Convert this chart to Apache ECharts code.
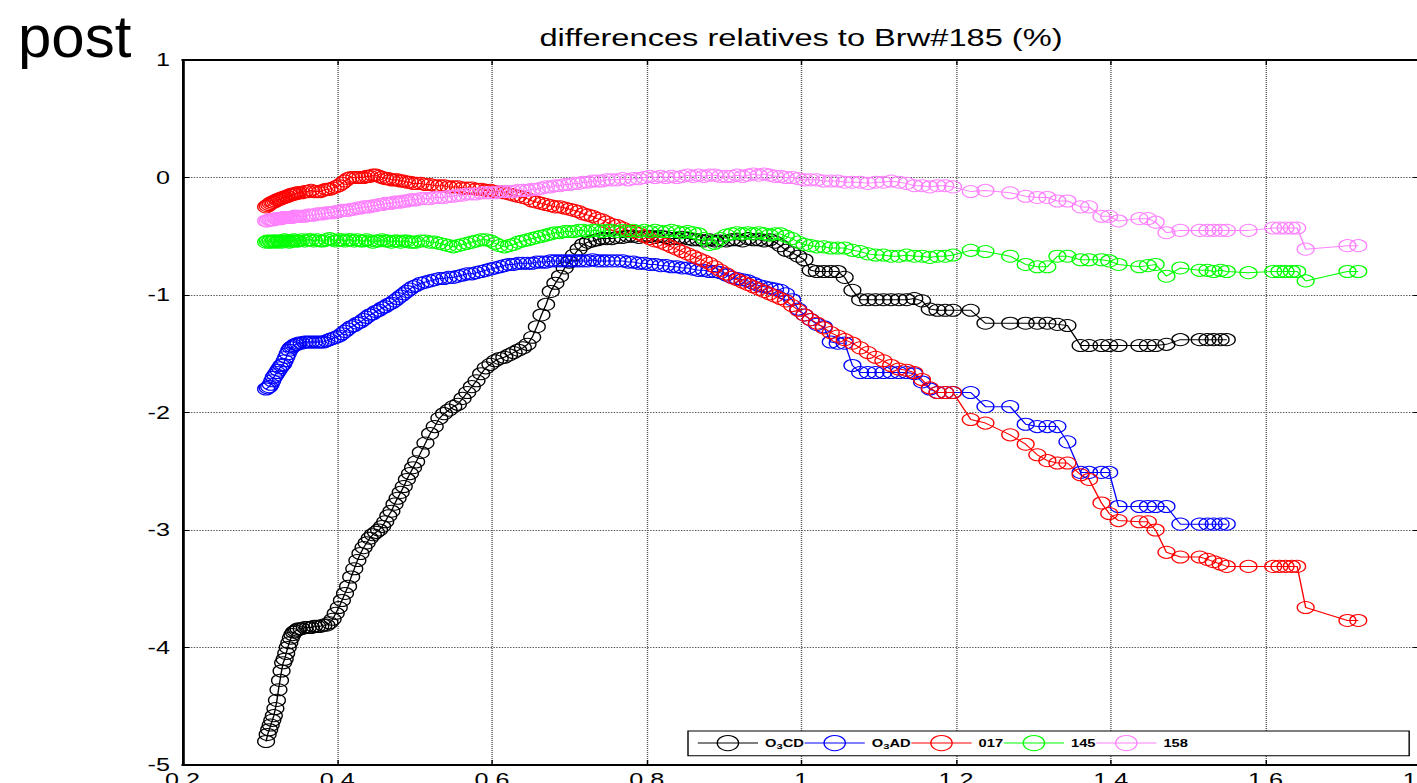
<!DOCTYPE html>
<html>
<head>
<meta charset="utf-8">
<title>differences relatives to Brw#185 (%)</title>
<script src="https://cdn.jsdelivr.net/npm/echarts@6/dist/echarts.min.js"></script>
<style>
  html, body { margin: 0; padding: 0; background: #fff; overflow: hidden; width: 1417px; height: 783px; }
  /* The figure is laid out on a narrower canvas and widened horizontally. */
  #chart { position: absolute; left: 0; top: 0; width: 1013px; height: 783px; transform: scaleX(1.4); transform-origin: 0 0; }
</style>
</head>
<body>
<div id="chart"></div>
<script>
const WIDEN = 1.4;
const FONT = '"Liberation Sans", Arial, Helvetica, sans-serif';

// Shared abscissa of all measurements
const muGrid = [
  0.308,0.310,0.312,0.314,0.316,0.318,0.320,0.322,0.324,0.326,0.328,0.330,0.332,0.334,0.336,0.338,0.340,0.342,0.344,0.346,0.348,
  0.350,0.354,0.358,0.362,0.366,0.370,0.374,0.378,0.382,0.386,0.390,0.394,0.398,0.402,0.406,0.410,0.414,0.418,0.422,0.426,0.430,0.434,0.438,0.442,0.446,0.450,0.454,0.458,0.462,0.466,0.470,0.474,0.478,0.482,0.486,0.490,0.494,0.498,
  0.502,0.508,0.514,0.520,0.526,0.532,0.538,0.544,0.550,0.556,0.562,0.568,0.574,0.580,0.586,0.592,0.598,0.604,0.610,0.616,0.622,0.628,0.634,0.640,0.646,0.652,0.658,0.664,0.670,0.676,0.682,0.688,0.694,0.700,0.706,0.712,0.718,0.724,0.730,0.736,0.742,0.748,
  0.755,0.762,0.769,0.776,0.783,0.790,0.797,0.804,0.811,0.818,0.825,0.832,0.839,0.846,0.853,0.860,0.867,0.874,0.881,0.888,0.895,
  0.903,0.910,0.917,0.924,0.931,0.938,0.945,0.952,0.959,0.966,0.973,0.980,0.988,0.996,1.004,1.012,1.020,1.029,1.038,1.047,1.056,
  1.066,1.076,1.086,1.096,1.106,1.116,1.126,1.136,1.146,1.156,1.166,1.176,1.186,1.196,
  1.219,1.238,1.270,1.290,1.305,1.318,1.331,1.344,1.361,1.372,1.388,1.398,1.410,
  1.437,1.448,1.458,1.472,1.490,1.515,1.525,1.533,1.542,1.550,
  1.578,1.610,1.618,1.626,1.634,1.641,1.652,1.706,1.720
];

const seriesNames = ['O3CD', 'O3AD', '017', '145', '158'];
const seriesColors = ['#000000', '#0000ff', '#ff0000', '#00ff00', '#ff80ff'];

const yO3CD = [
  -4.80,-4.74,-4.70,-4.66,-4.62,-4.58,-4.52,-4.45,-4.36,-4.28,-4.20,-4.13,-4.10,-4.05,-4.00,-3.96,-3.92,-3.89,-3.87,-3.86,-3.85,
  -3.84,-3.84,-3.83,-3.83,-3.83,-3.82,-3.82,-3.82,-3.81,-3.81,-3.79,-3.76,-3.71,-3.66,-3.60,-3.54,-3.48,-3.40,-3.33,-3.26,-3.20,-3.15,-3.11,-3.07,-3.04,-3.02,-3.00,-2.97,-2.93,-2.88,-2.84,-2.78,-2.73,-2.68,-2.63,-2.57,-2.52,-2.47,
  -2.42,-2.34,-2.26,-2.18,-2.12,-2.05,-2.01,-1.98,-1.95,-1.93,-1.88,-1.83,-1.78,-1.73,-1.67,-1.62,-1.59,-1.56,-1.54,-1.53,-1.51,-1.49,-1.47,-1.45,-1.42,-1.36,-1.27,-1.17,-1.08,-0.97,-0.90,-0.84,-0.77,-0.72,-0.66,-0.61,-0.57,-0.55,-0.54,-0.53,-0.52,-0.52,
  -0.52,-0.51,-0.51,-0.50,-0.50,-0.51,-0.50,-0.50,-0.51,-0.50,-0.51,-0.52,-0.52,-0.51,-0.52,-0.53,-0.53,-0.54,-0.53,-0.54,-0.54,
  -0.54,-0.53,-0.53,-0.54,-0.52,-0.53,-0.53,-0.54,-0.53,-0.55,-0.58,-0.62,-0.64,-0.67,-0.70,-0.79,-0.80,-0.80,-0.80,-0.80,-0.85,
  -0.96,-1.04,-1.04,-1.04,-1.04,-1.04,-1.04,-1.04,-1.03,-1.05,-1.12,-1.13,-1.13,-1.13,
  -1.13,-1.24,-1.24,-1.24,-1.24,-1.24,-1.25,-1.26,-1.43,-1.43,-1.43,-1.43,-1.43,
  -1.43,-1.43,-1.43,-1.42,-1.38,-1.38,-1.38,-1.38,-1.38,-1.38,
  null,null,null,null,null,null,null,null,null
];

const yO3AD = [
  -1.80,-1.79,-1.78,-1.76,-1.73,-1.70,-1.68,-1.66,-1.64,-1.62,-1.60,-1.59,-1.56,-1.53,-1.50,-1.47,-1.45,-1.44,-1.43,-1.42,-1.42,
  -1.41,-1.41,-1.40,-1.40,-1.40,-1.40,-1.40,-1.40,-1.40,-1.39,-1.38,-1.37,-1.36,-1.35,-1.33,-1.31,-1.29,-1.27,-1.26,-1.24,-1.23,-1.21,-1.19,-1.17,-1.16,-1.14,-1.13,-1.11,-1.10,-1.08,-1.07,-1.05,-1.03,-1.01,-0.99,-0.97,-0.95,-0.93,
  -0.92,-0.90,-0.89,-0.88,-0.87,-0.86,-0.86,-0.85,-0.85,-0.84,-0.83,-0.82,-0.82,-0.81,-0.80,-0.79,-0.78,-0.77,-0.76,-0.75,-0.74,-0.74,-0.73,-0.73,-0.73,-0.73,-0.72,-0.72,-0.72,-0.71,-0.71,-0.71,-0.71,-0.71,-0.71,-0.71,-0.71,-0.71,-0.70,-0.71,-0.71,-0.71,
  -0.71,-0.71,-0.71,-0.72,-0.72,-0.73,-0.73,-0.74,-0.74,-0.75,-0.75,-0.76,-0.76,-0.77,-0.77,-0.78,-0.79,-0.79,-0.80,-0.80,-0.81,
  -0.83,-0.85,-0.86,-0.87,-0.88,-0.90,-0.92,-0.93,-0.94,-0.95,-0.96,-0.99,-1.04,-1.12,-1.17,-1.21,-1.25,-1.27,-1.40,-1.41,-1.41,
  -1.60,-1.66,-1.66,-1.66,-1.66,-1.66,-1.66,-1.66,-1.67,-1.74,-1.80,-1.83,-1.83,-1.83,
  -1.83,-1.95,-1.95,-2.10,-2.12,-2.12,-2.12,-2.25,-2.51,-2.51,-2.51,-2.51,-2.80,
  -2.80,-2.80,-2.80,-2.80,-2.95,-2.95,-2.95,-2.95,-2.95,-2.95,
  null,null,null,null,null,null,null,null,null
];

const y017 = [
  -0.25,-0.24,-0.23,-0.22,-0.21,-0.21,-0.20,-0.19,-0.19,-0.18,-0.18,-0.17,-0.17,-0.16,-0.16,-0.15,-0.15,-0.14,-0.14,-0.14,-0.13,
  -0.13,-0.13,-0.12,-0.12,-0.11,-0.12,-0.12,-0.12,-0.11,-0.10,-0.10,-0.09,-0.08,-0.07,-0.05,-0.03,-0.01,0.00,0.00,0.00,0.00,0.00,0.01,0.01,0.02,0.02,0.01,0.00,-0.01,-0.01,-0.02,-0.02,-0.02,-0.03,-0.03,-0.04,-0.04,-0.05,
  -0.05,-0.05,-0.06,-0.06,-0.07,-0.07,-0.07,-0.08,-0.08,-0.08,-0.09,-0.09,-0.09,-0.10,-0.10,-0.11,-0.11,-0.12,-0.12,-0.13,-0.14,-0.15,-0.16,-0.17,-0.18,-0.20,-0.21,-0.22,-0.23,-0.24,-0.25,-0.25,-0.26,-0.27,-0.28,-0.29,-0.31,-0.32,-0.33,-0.35,-0.36,-0.38,
  -0.40,-0.41,-0.43,-0.45,-0.46,-0.48,-0.50,-0.52,-0.54,-0.55,-0.57,-0.59,-0.61,-0.63,-0.65,-0.67,-0.69,-0.71,-0.73,-0.76,-0.79,
  -0.82,-0.85,-0.87,-0.89,-0.91,-0.93,-0.95,-0.97,-0.99,-1.01,-1.03,-1.05,-1.09,-1.13,-1.17,-1.21,-1.24,-1.28,-1.32,-1.35,-1.38,
  -1.41,-1.45,-1.49,-1.53,-1.56,-1.60,-1.63,-1.64,-1.66,-1.72,-1.79,-1.83,-1.83,-1.83,
  -2.06,-2.09,-2.19,-2.27,-2.36,-2.41,-2.43,-2.43,-2.53,-2.57,-2.77,-2.86,-2.92,
  -2.93,-2.93,-3.00,-3.19,-3.23,-3.23,-3.25,-3.27,-3.29,-3.31,
  -3.31,-3.31,-3.31,-3.31,-3.31,-3.31,-3.66,-3.77,-3.77
];

const y145 = [
  -0.55,-0.54,-0.55,-0.54,-0.55,-0.54,-0.54,-0.55,-0.54,-0.54,-0.55,-0.54,-0.53,-0.54,-0.54,-0.55,-0.54,-0.54,-0.53,-0.54,-0.54,
  -0.54,-0.53,-0.54,-0.53,-0.53,-0.54,-0.53,-0.54,-0.54,-0.53,-0.52,-0.53,-0.54,-0.53,-0.53,-0.54,-0.53,-0.53,-0.54,-0.53,-0.54,-0.54,-0.53,-0.54,-0.55,-0.54,-0.54,-0.53,-0.54,-0.54,-0.55,-0.54,-0.54,-0.55,-0.54,-0.54,-0.55,-0.55,
  -0.55,-0.54,-0.54,-0.55,-0.55,-0.56,-0.57,-0.58,-0.59,-0.58,-0.57,-0.56,-0.55,-0.54,-0.53,-0.53,-0.54,-0.56,-0.58,-0.59,-0.58,-0.57,-0.55,-0.54,-0.53,-0.52,-0.51,-0.50,-0.49,-0.48,-0.47,-0.47,-0.46,-0.46,-0.46,-0.45,-0.45,-0.46,-0.45,-0.45,-0.46,-0.45,
  -0.45,-0.46,-0.45,-0.46,-0.45,-0.46,-0.45,-0.46,-0.45,-0.46,-0.46,-0.45,-0.46,-0.47,-0.46,-0.47,-0.48,-0.52,-0.57,-0.56,-0.52,
  -0.49,-0.48,-0.47,-0.48,-0.47,-0.48,-0.47,-0.48,-0.49,-0.48,-0.48,-0.50,-0.52,-0.55,-0.57,-0.58,-0.59,-0.59,-0.60,-0.60,-0.60,
  -0.62,-0.63,-0.65,-0.66,-0.66,-0.67,-0.67,-0.66,-0.67,-0.67,-0.68,-0.67,-0.67,-0.66,
  -0.62,-0.63,-0.67,-0.74,-0.76,-0.76,-0.67,-0.67,-0.70,-0.70,-0.70,-0.71,-0.74,
  -0.76,-0.75,-0.74,-0.84,-0.77,-0.79,-0.79,-0.80,-0.79,-0.80,
  -0.81,-0.80,-0.80,-0.80,-0.80,-0.80,-0.88,-0.80,-0.80
];

const y158 = [
  -0.37,-0.37,-0.36,-0.36,-0.36,-0.36,-0.35,-0.35,-0.35,-0.35,-0.35,-0.34,-0.34,-0.34,-0.34,-0.34,-0.34,-0.34,-0.33,-0.33,-0.33,
  -0.33,-0.33,-0.33,-0.32,-0.32,-0.32,-0.31,-0.31,-0.31,-0.30,-0.30,-0.30,-0.29,-0.29,-0.28,-0.28,-0.28,-0.27,-0.27,-0.26,-0.26,-0.25,-0.25,-0.25,-0.24,-0.24,-0.23,-0.23,-0.22,-0.22,-0.22,-0.21,-0.21,-0.21,-0.20,-0.20,-0.19,-0.19,
  -0.19,-0.18,-0.18,-0.18,-0.17,-0.17,-0.17,-0.16,-0.16,-0.15,-0.15,-0.14,-0.14,-0.14,-0.13,-0.13,-0.13,-0.13,-0.12,-0.12,-0.12,-0.12,-0.11,-0.11,-0.11,-0.10,-0.10,-0.09,-0.08,-0.08,-0.07,-0.07,-0.06,-0.06,-0.05,-0.05,-0.04,-0.04,-0.03,-0.03,-0.03,-0.02,
  -0.02,-0.02,-0.01,-0.02,-0.01,-0.01,0.00,0.01,0.00,0.01,0.00,0.01,0.00,0.01,0.02,0.01,0.02,0.01,0.02,0.02,0.01,
  0.01,0.01,0.02,0.01,0.02,0.03,0.02,0.03,0.02,0.01,0.01,0.00,0.00,-0.01,-0.02,-0.02,-0.02,-0.03,-0.03,-0.03,-0.04,
  -0.04,-0.04,-0.05,-0.04,-0.04,-0.03,-0.04,-0.05,-0.07,-0.07,-0.08,-0.07,-0.07,-0.08,
  -0.12,-0.11,-0.13,-0.16,-0.17,-0.17,-0.20,-0.20,-0.25,-0.25,-0.33,-0.33,-0.37,
  -0.35,-0.35,-0.38,-0.47,-0.45,-0.45,-0.45,-0.45,-0.45,-0.45,
  -0.45,-0.43,-0.43,-0.43,-0.43,-0.43,-0.61,-0.58,-0.58
];

const seriesValues = [yO3CD, yO3AD, y017, y145, y158];

const xTicks = { min: 0.2, max: 1.8, interval: 0.2 };
const yTicks = { min: -5, max: 1, interval: 1 };

function toPairs(ys) {
  const out = [];
  ys.forEach((y, i) => { if (y !== null) out.push([muGrid[i], y]); });
  return out;
}

const chart = echarts.init(document.getElementById('chart'), null, { renderer: 'svg' });

const gridLine = { show: true, lineStyle: { color: '#555', type: 'dotted', width: 1 } };
const tickStyle = { inside: true, length: 5, lineStyle: { color: '#000', width: 1 } };

chart.setOption({
  animation: false,
  backgroundColor: '#fff',
  textStyle: { fontFamily: FONT },
  grid: { left: 130.4, right: -1.4, top: 60, bottom: 18, containLabel: false, outerBoundsMode: 'none' },
  xAxis: [
    {
      type: 'value', position: 'bottom', min: xTicks.min, max: xTicks.max, interval: xTicks.interval,
      axisLine: { onZero: false, lineStyle: { color: '#000', width: 2 } },
      axisTick: tickStyle,
      axisLabel: {
        margin: 6, fontSize: 18, color: '#000', fontFamily: FONT, showMinLabel: true, showMaxLabel: true,
        formatter: v => String(Math.round(v * 10) / 10)
      },
      splitLine: gridLine
    },
    {
      type: 'value', position: 'top', min: xTicks.min, max: xTicks.max, interval: xTicks.interval,
      axisLine: { onZero: false, lineStyle: { color: '#000', width: 2 } },
      axisTick: tickStyle, axisLabel: { show: false }, splitLine: { show: false }
    }
  ],
  yAxis: [
    {
      type: 'value', position: 'left', min: yTicks.min, max: yTicks.max, interval: yTicks.interval,
      axisLine: { onZero: false, lineStyle: { color: '#000', width: 2 } },
      axisTick: tickStyle,
      axisLabel: { margin: 9, fontSize: 18, color: '#000', fontFamily: FONT },
      splitLine: gridLine
    },
    {
      type: 'value', position: 'right', min: yTicks.min, max: yTicks.max, interval: yTicks.interval,
      axisLine: { onZero: false, lineStyle: { color: '#000', width: 2 } },
      axisTick: tickStyle, axisLabel: { show: false }, splitLine: { show: false }
    }
  ],
  legend: {
    data: seriesNames,
    left: 688 / WIDEN, top: 731,
    width: 420,
    orient: 'horizontal',
    itemWidth: 43, itemHeight: 19, itemGap: 0,
    padding: [4, 158, 4.5, 6.5],
    backgroundColor: '#fff', borderColor: '#000', borderWidth: 1, borderRadius: 0,
    selectedMode: false,
    itemStyle: { borderWidth: 1 },
    lineStyle: { width: 1 },
    formatter: name => name.startsWith('O3') ? 'O{sub|3}' + name.slice(2) : name,
    textStyle: {
      fontSize: 10.5, fontWeight: 'bold', color: '#000', fontFamily: FONT,
      rich: { sub: { fontSize: 8, fontWeight: 'bold', color: '#000', fontFamily: FONT, padding: [6, 0, 0, 0] } }
    }
  },
  graphic: [
    {
      type: 'text', x: 18 / WIDEN, y: 36, scaleX: 1 / WIDEN, silent: true,
      style: { text: 'post', font: '60px ' + FONT, fill: '#000', align: 'left', verticalAlign: 'middle' }
    },
    {
      type: 'text', x: 801 / WIDEN, y: 38, silent: true,
      style: { text: 'differences relatives to Brw#185 (%)', font: '23.3px ' + FONT, fill: '#000', align: 'center', verticalAlign: 'middle' }
    }
  ],
  series: seriesNames.map((name, k) => ({
    name,
    type: 'line',
    xAxisIndex: 0,
    yAxisIndex: 0,
    data: toPairs(seriesValues[k]),
    symbol: 'circle',
    symbolSize: 12,
    showSymbol: true,
    showAllSymbol: true,
    lineStyle: { color: seriesColors[k], width: 1 },
    itemStyle: { color: 'rgba(0,0,0,0)', borderColor: seriesColors[k], borderWidth: 1 },
    emphasis: { disabled: true }
  }))
});
</script>
</body>
</html>
